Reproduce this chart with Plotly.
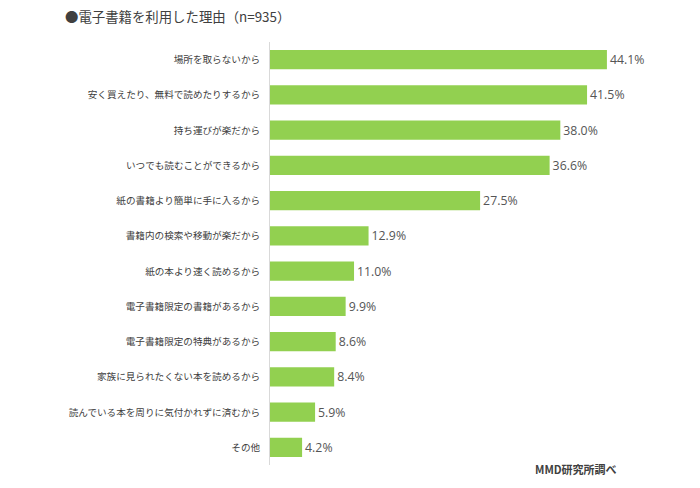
import plotly.graph_objects as go

reasons = [
    "場所を取らないから",
    "安く買えたり、無料で読めたりするから",
    "持ち運びが楽だから",
    "いつでも読むことができるから",
    "紙の書籍より簡単に手に入るから",
    "書籍内の検索や移動が楽だから",
    "紙の本より速く読めるから",
    "電子書籍限定の書籍があるから",
    "電子書籍限定の特典があるから",
    "家族に見られたくない本を読めるから",
    "読んでいる本を周りに気付かれずに済むから",
    "その他",
]
shares = [44.1, 41.5, 38.0, 36.6, 27.5, 12.9, 11.0, 9.9, 8.6, 8.4, 5.9, 4.2]

FONT = "Noto Sans CJK JP, Meiryo, sans-serif"
GREEN = "#92d050"

fig = go.Figure(
    go.Bar(
        x=shares,
        y=reasons,
        orientation="h",
        marker=dict(color=GREEN, line=dict(width=0)),
        text=[f"{v:.1f}%" for v in shares],
        textposition="outside",
        textfont=dict(size=12.3, color="#555555", family="Open Sans, " + FONT),
        cliponaxis=False,
        width=0.55,
    )
)

fig.update_layout(
    width=700,
    height=488,
    margin=dict(l=270, r=48, t=42, b=23, autoexpand=False),
    paper_bgcolor="white",
    plot_bgcolor="white",
    font=dict(family=FONT, size=10, color="#404040"),
    showlegend=False,
    title=dict(
        text="●電子書籍を利用した理由（n=935）",
        font=dict(size=13.4, color="#404040", family=FONT),
        x=65 / 700,
        xanchor="left",
        xref="container",
        y=1 - 17 / 488,
        yanchor="middle",
        yref="container",
        pad=dict(l=0, r=0, t=0, b=0),
    ),
    annotations=[
        dict(
            text="<b>MMD研究所調べ</b>",
            x=0.80,
            y=-0.01,
            xref="paper",
            yref="paper",
            xanchor="center",
            yanchor="middle",
            showarrow=False,
            font=dict(size=11, color="#404040", family=FONT),
        )
    ],
)

fig.update_xaxes(range=[0, 50], visible=False, fixedrange=True, automargin=False)
fig.update_yaxes(
    autorange="reversed",
    automargin=False,
    showline=True,
    linecolor="#d9d9d9",
    linewidth=1,
    showgrid=False,
    ticks="",
    ticklabelstandoff=7,
    tickfont=dict(size=9.6, color="#404040", family=FONT),
)

# drop the browser's default body margin so the figure sits at the page origin
fig.write_html(
    "out.html",
    config={"displayModeBar": False},
    post_script="document.body.style.margin='0';",
)
